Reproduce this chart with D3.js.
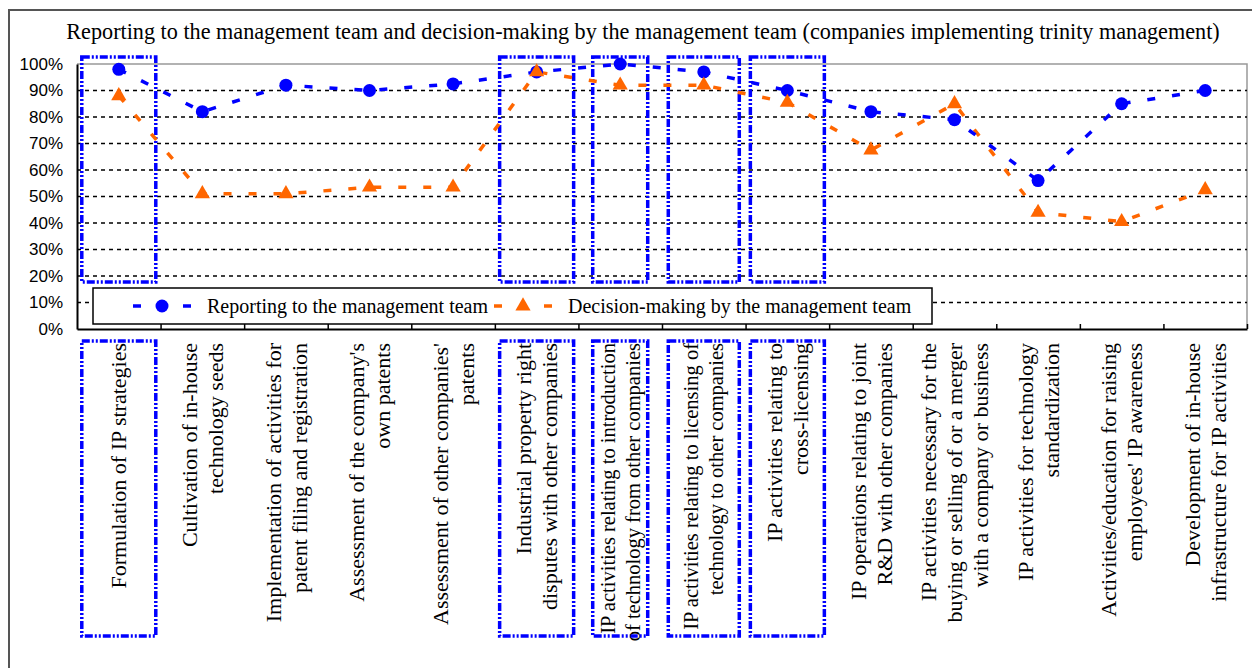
<!DOCTYPE html>
<html>
<head>
<meta charset="utf-8">
<script src="https://cdn.jsdelivr.net/npm/d3@7"></script>
<style>
  body { margin: 0; background: #fff; }
  text { font-family: "Liberation Serif", "Times New Roman", serif; fill: #000; }
  .y-axis text { font-family: "Liberation Sans", Arial, sans-serif; font-size: 17px; }
</style>
</head>
<body>
<div id="chart"></div>
<script>
const title = 'Reporting to the management team and decision-making by the management team (companies implementing trinity management)';

const category_lines = [
    ['Formulation of IP strategies'],
    ['Cultivation of in-house', 'technology seeds'],
    ['Implementation of activities for', 'patent filing and registration'],
    ["Assessment of the company's", 'own patents'],
    ["Assessment of other companies'", 'patents'],
    ['Industrial property right', 'disputes with other companies'],
    ['IP activities relating to introduction', 'of technology from other companies'],
    ['IP activities relating to licensing of', 'technology to other companies'],
    ['IP activities relating to', 'cross-licensing'],
    ['IP operations relating to joint', 'R&D with other companies'],
    ['IP activities necessary for the', 'buying or selling of or a merger', 'with a company or business'],
    ['IP activities for technology', 'standardization'],
    ['Activities/education for raising', "employees' IP awareness"],
    ['Development of in-house', 'infrastructure for IP activities'],
];

const series_names = ['Reporting to the management team', 'Decision-making by the management team'];
const reporting = [98, 82, 92, 90, 92.5, 97, 100, 97, 90, 82, 79, 56, 85, 90];
const decision = [88, 51, 51, 53.5, 53.5, 97, 92, 92, 85.5, 67.5, 85, 44, 40.5, 52.5];
const y_ticks = [0, 10, 20, 30, 40, 50, 60, 70, 80, 90, 100];

// categories highlighted with blue dotted frames
const highlighted = [0, 5, 6, 7, 8];
const small_labels = [6, 7];

const chart_width = 1252;
const chart_height = 668;
const plot = { left: 77, right: 1247, top: 64, bottom: 329 };
const blue = '#0000ff';
const orange = '#ff6600';

const svg = d3.select('#chart')
    .append('svg')
    .attr('width', chart_width)
    .attr('height', chart_height);

// Outer frame
svg.append('path')
    .attr('d', `M9,${chart_height} V10 H${chart_width}`)
    .attr('fill', 'none')
    .attr('stroke', '#555')
    .attr('stroke-width', 2);

// Title
svg.append('text')
    .attr('x', 643)
    .attr('y', 39)
    .attr('text-anchor', 'middle')
    .style('font-size', '22.2px')
    .text(title);

// Scales
const x_band = d3.scaleBand()
    .domain(d3.range(category_lines.length))
    .range([plot.left, plot.right]);
const x_center = i => x_band(i) + x_band.bandwidth() / 2;

const x_edge = d3.scaleLinear()
    .domain([0, category_lines.length])
    .range([plot.left, plot.right]);

const y_scale = d3.scaleLinear()
    .domain([0, 100])
    .range([plot.bottom, plot.top]);

// Plot border (top/right gray)
svg.append('path')
    .attr('d', `M${plot.left},${plot.top} H${plot.right} V${plot.bottom}`)
    .attr('fill', 'none')
    .attr('stroke', '#999')
    .attr('stroke-width', 1.5);

// Gridlines
svg.append('g')
    .selectAll('line')
    .data(y_ticks.filter(d => d > 0 && d < 100))
    .enter()
    .append('line')
    .attr('x1', plot.left)
    .attr('x2', plot.right)
    .attr('y1', d => y_scale(d))
    .attr('y2', d => y_scale(d))
    .attr('stroke', '#000')
    .attr('stroke-width', 1.6)
    .attr('stroke-dasharray', '4,4');

// Axes
const y_axis = d3.axisLeft(y_scale)
    .tickValues(y_ticks)
    .tickSize(0)
    .tickPadding(14)
    .tickFormat(d => d + '%');

svg.append('g')
    .classed('y-axis', true)
    .attr('transform', `translate(${plot.left}, 0)`)
    .call(y_axis)
    .call(g => g.select('.domain').attr('stroke', '#000').attr('stroke-width', 2));

const x_axis = d3.axisBottom(x_edge)
    .tickValues(d3.range(1, category_lines.length + 1))
    .tickSize(-5)
    .tickSizeOuter(0)
    .tickFormat('');

svg.append('g')
    .classed('x-axis', true)
    .attr('transform', `translate(0, ${plot.bottom})`)
    .call(x_axis)
    .call(g => g.select('.domain').attr('stroke', '#000').attr('stroke-width', 2))
    .call(g => g.selectAll('.tick line').attr('stroke', '#000').attr('stroke-width', 1.5));

// Highlight frames
const frame_width = { 0: 74, 5: 74, 6: 55, 7: 71, 8: 74 };
const frames = svg.append('g')
    .attr('fill', 'none')
    .attr('stroke', blue)
    .attr('stroke-width', 3.5)
    .attr('stroke-dasharray', '8,2,2,2,2,2');

highlighted.forEach(i => {
    const w = frame_width[i];
    const cx = x_center(i);
    frames.append('rect')
        .attr('x', cx - w / 2)
        .attr('y', 57)
        .attr('width', w)
        .attr('height', 225);
    frames.append('rect')
        .attr('x', cx - w / 2)
        .attr('y', 341)
        .attr('width', w)
        .attr('height', 295);
});

// Lines
const line = d3.line()
    .x((d, i) => x_center(i))
    .y(d => y_scale(d));

svg.append('path')
    .datum(decision)
    .attr('d', line)
    .attr('fill', 'none')
    .attr('stroke', orange)
    .attr('stroke-width', 3.5)
    .attr('stroke-dasharray', '8,17');

svg.append('path')
    .datum(reporting)
    .attr('d', line)
    .attr('fill', 'none')
    .attr('stroke', blue)
    .attr('stroke-width', 3.5)
    .attr('stroke-dasharray', '8,17');

// Markers
const triangle = d3.symbol().type(d3.symbolTriangle).size(100);

svg.append('g')
    .selectAll('circle')
    .data(reporting)
    .enter()
    .append('circle')
    .attr('cx', (d, i) => x_center(i))
    .attr('cy', d => y_scale(d))
    .attr('r', 6.5)
    .attr('fill', blue);

svg.append('g')
    .selectAll('path')
    .data(decision)
    .enter()
    .append('path')
    .attr('d', triangle)
    .attr('transform', (d, i) => `translate(${x_center(i)}, ${y_scale(d)})`)
    .attr('fill', orange);

// Legend
const legend = svg.append('g');
legend.append('rect')
    .attr('x', 93)
    .attr('y', 288)
    .attr('width', 839)
    .attr('height', 36)
    .attr('fill', '#fff')
    .attr('stroke', '#000')
    .attr('stroke-width', 1.5);

const legend_items = [
    { name: series_names[0], color: blue, x: 133, marker: 'circle' },
    { name: series_names[1], color: orange, x: 494, marker: 'triangle' },
];

legend_items.forEach(item => {
    const g = legend.append('g').attr('transform', `translate(${item.x}, 306)`);
    g.append('line')
        .attr('x1', 0)
        .attr('x2', 58)
        .attr('stroke', item.color)
        .attr('stroke-width', 3.5)
        .attr('stroke-dasharray', '8,17');
    if (item.marker === 'circle') {
        g.append('circle').attr('cx', 29).attr('r', 6.5).attr('fill', item.color);
    } else {
        g.append('path').attr('d', triangle).attr('transform', 'translate(29, 0)').attr('fill', item.color);
    }
    g.append('text')
        .attr('x', 74)
        .attr('y', 7)
        .style('font-size', '20px')
        .text(item.name);
});

// Category labels (rotated)
const labels = svg.append('g');
category_lines.forEach((lines, i) => {
    const small = small_labels.includes(i);
    const fs = small ? 20.5 : 22;
    const lh = small ? 25 : 26;
    const t = labels.append('text')
        .attr('transform', `translate(${x_center(i)}, 343) rotate(-90)`)
        .attr('text-anchor', 'end')
        .style('font-size', fs + 'px');
    lines.forEach((ln, j) => {
        t.append('tspan')
            .attr('x', 0)
            .attr('y', (j - (lines.length - 1) / 2) * lh + fs * 0.35)
            .text(ln);
    });
});
</script>
</body>
</html>
